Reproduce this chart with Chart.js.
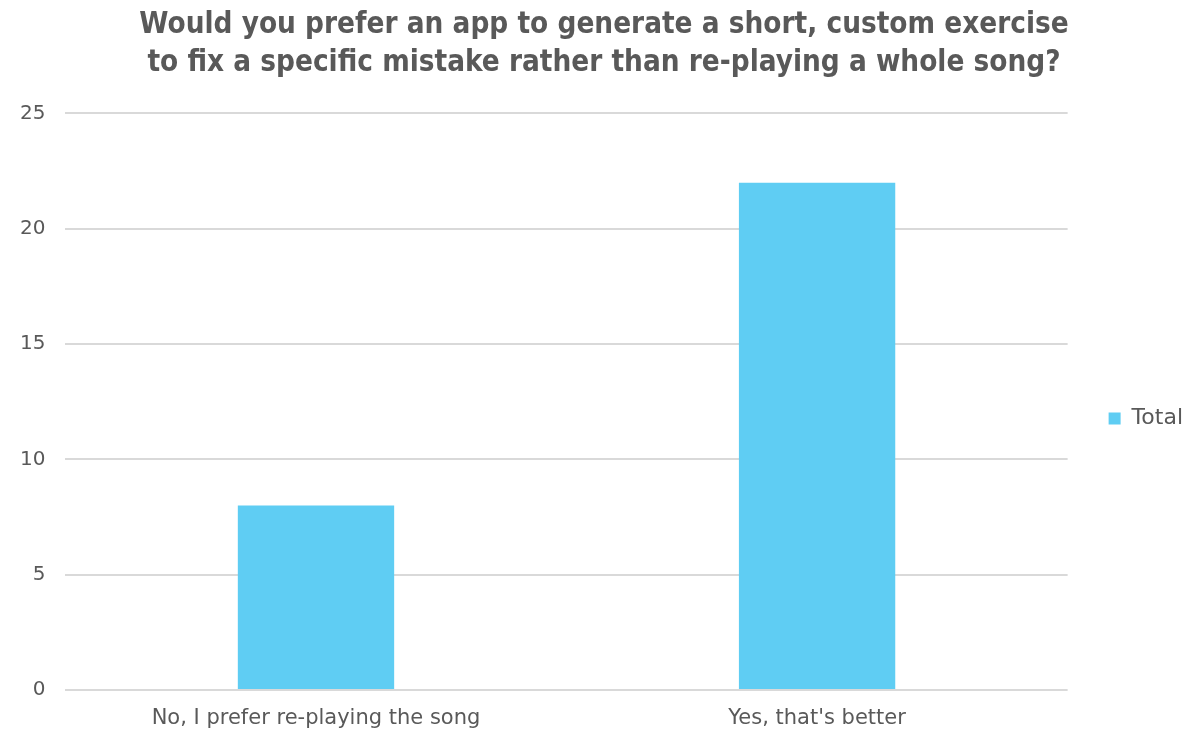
<!DOCTYPE html>
<html>
<head>
<meta charset="utf-8">
<script src="https://cdn.jsdelivr.net/npm/chart.js@4.4.1/dist/chart.umd.min.js"></script>
<style>
  html, body { margin: 0; padding: 0; background: #ffffff; }
  #wrap { width: 1189px; height: 736px; }
</style>
</head>
<body>
<div id="wrap"><canvas id="chart" width="1189" height="736"></canvas></div>
<script>
// Survey answers and their counts
const categories = ["No, I prefer re-playing the song", "Yes, that's better"];
const totals = [8, 22];
const seriesName = "Total";
const titleLines = [
  "Would you prefer an app to generate a short, custom exercise",
  "to fix a specific mistake rather than re-playing a whole song?"
];
const yMin = 0, yMax = 25, yStep = 5;

const textColor = "#595959";
const fontFamily = "'DejaVu Sans', sans-serif";
const titleFamily = "'DejaVu Sans Condensed', 'DejaVu Sans', sans-serif";

// Nudges the legend block away from the plot and lower down, and centres the title on the page
const blockOffsets = {
  id: "blockOffsets",
  afterLayout(chart, args, opts) {
    const lg = chart.legend;
    if (lg) {
      lg.left += opts.legendDx; lg.right += opts.legendDx;
      lg.top += opts.legendDy; lg.bottom += opts.legendDy;
    }
    const tb = chart.titleBlock;
    if (tb) {
      tb.left += opts.titleDx; tb.right += opts.titleDx;
    }
  }
};

new Chart(document.getElementById("chart"), {
  type: "bar",
  data: {
    labels: categories,
    datasets: [{
      label: seriesName,
      data: totals,
      backgroundColor: "#5FCDF3",
      borderWidth: 0,
      categoryPercentage: 1,
      barPercentage: 0.312
    }]
  },
  plugins: [blockOffsets],
  options: {
    responsive: false,
    animation: false,
    layout: { padding: { left: 0, right: 27, top: 6, bottom: -11 } },
    plugins: {
      blockOffsets: { legendDx: 31, legendDy: 42, titleDx: 23 },
      title: {
        display: true,
        text: titleLines,
        color: textColor,
        font: { family: titleFamily, size: 29.4, weight: "bold", lineHeight: 1.3 },
        padding: { top: 0, bottom: 31 }
      },
      legend: {
        position: "right",
        labels: {
          color: textColor,
          font: { family: fontFamily, size: 22 },
          boxWidth: 12,
          boxHeight: 12,
          padding: 10
        }
      },
      tooltip: { enabled: false }
    },
    scales: {
      x: {
        grid: { display: false, drawTicks: false },
        border: { display: false },
        ticks: {
          color: textColor,
          font: { family: fontFamily, size: 21, lineHeight: 1 },
          padding: 18,
          maxRotation: 0
        }
      },
      y: {
        min: yMin,
        max: yMax,
        grid: { color: "#D9D9D9", lineWidth: 2, drawTicks: false },
        border: { display: false },
        ticks: {
          stepSize: yStep,
          color: textColor,
          font: { family: fontFamily, size: 20 },
          padding: 20
        }
      }
    }
  }
});
</script>
</body>
</html>
